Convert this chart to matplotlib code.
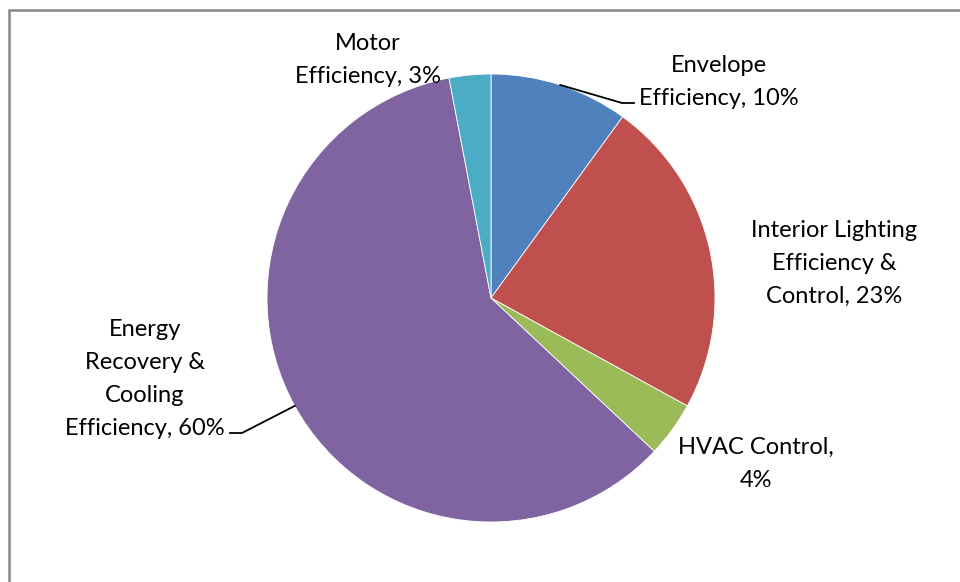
import matplotlib.pyplot as plt
import numpy as np

labels = ['Envelope\nEfficiency, 10%', 'Interior Lighting\nEfficiency &\nControl, 23%',
          'HVAC Control,\n4%', 'Energy\nRecovery &\nCooling\nEfficiency, 60%',
          'Motor\nEfficiency, 3%']
values = [10, 23, 4, 60, 3]
colors = ['#4F81BD', '#C0504D', '#9BBB59', '#8064A2', '#4BACC6']

W, H = 960, 582
fig = plt.figure(figsize=(9.6, 5.82), dpi=100)
ax = fig.add_axes([0, 0, 1, 1])

cx, cy, r = 491, H - 298, 224
wedges, _ = ax.pie(values, colors=colors, startangle=90, counterclock=False,
                   center=(cx, cy), radius=r, frame=True,
                   wedgeprops=dict(edgecolor='white', linewidth=0.6))
ax.set_xlim(0, W)
ax.set_ylim(0, H)
ax.set_aspect('equal')
ax.axis('off')

# chart border
ax.plot([9, 9, W + 5], [-5, H - 10, H - 10], color='#868686', lw=1.8,
        solid_joinstyle='miter', clip_on=False)

font = dict(family=['Lato', 'DejaVu Sans'], fontsize=17, color='black',
            linespacing=1.7, ha='center', va='center')

# label positions (pixel coords from top-left)
label_pos = [(719, 82), (834, 263), (756, 464), (145, 379), (368, 60)]
for lab, (px, py) in zip(labels, label_pos):
    ax.text(px, H - py, lab, **font)

# leader lines for envelope and energy recovery
def edge_point(w):
    a = np.deg2rad((w.theta1 + w.theta2) / 2)
    return cx + r * np.cos(a), cy + r * np.sin(a)

x0, y0 = edge_point(wedges[0])
ax.plot([x0, 622, 634], [y0, H - 103, H - 103], color='black', lw=1.3)
x0, y0 = edge_point(wedges[3])
ax.plot([x0, 242, 230], [y0, H - 433, H - 433], color='black', lw=1.3)

fig.savefig('out.png', dpi=100)
